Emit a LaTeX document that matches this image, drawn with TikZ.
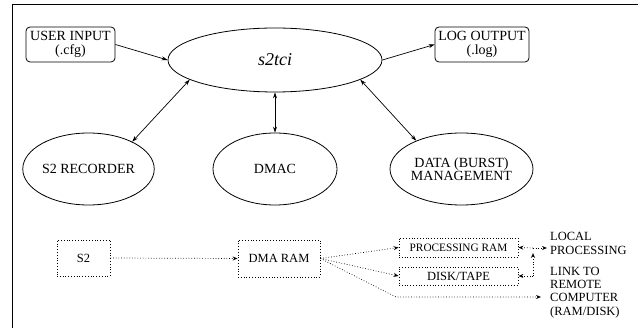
\documentclass[tikz,border=0pt]{standalone}
\usepackage{fontspec}
\setmainfont{Liberation Serif}
\usetikzlibrary{arrows.meta,shapes.geometric}
\tikzset{
  bigtxt/.style={font=\fontsize{14}{14}\selectfont},
  smalltxt/.style={font=\fontsize{12.5}{13.3}\selectfont},
  rbox/.style={draw, rounded corners=4pt, line width=0.8pt, inner sep=0pt, align=center, bigtxt},
  oval/.style={draw, ellipse, line width=0.8pt, inner sep=0pt, align=center, bigtxt},
  dbox/.style={draw, dotted, line width=0.8pt, inner sep=0pt, align=center, smalltxt},
  lbl/.style={inner sep=0pt, anchor=west, align=left, smalltxt},
  conn/.style={line width=0.7pt, -{Stealth[length=6pt,width=4pt]}},
  both/.style={line width=0.7pt, {Stealth[length=6pt,width=4pt]}-{Stealth[length=6pt,width=4pt]}},
  dconn/.style={dotted, line width=0.7pt, -{Stealth[open,length=5pt,width=4pt]}}
}
\begin{document}
\begin{tikzpicture}[x=1pt,y=-1pt]
\useasboundingbox (0,0) rectangle (638,328);
% frame
\draw[line width=1.2pt] (12.3,328) -- (12.3,4.3) -- (638,4.3);
% top part
\node[rbox, minimum width=89pt, minimum height=35pt] (ui) at (70.5,44.5) {USER INPUT\\(.cfg)};
\node[oval, minimum width=214pt, minimum height=64pt, font=\itshape\fontsize{18}{18}\selectfont] (s2tci) at (275,60) {s2tci};
\node[rbox, minimum width=94pt, minimum height=35pt] (lo) at (482,44.5) {LOG OUTPUT\\(.log)};
\node[oval, minimum width=125pt, minimum height=72pt] (rec) at (88.5,169) {S2 RECORDER};
\node[oval, minimum width=124pt, minimum height=72pt] (dmac) at (275,169) {DMAC};
\node[oval, minimum width=125pt, minimum height=72pt, font=\fontsize{14}{11.5}\selectfont] (data) at (461.5,169) {DATA (BURST)\\MANAGEMENT};
\draw[conn] (ui.east) -- (s2tci.west);
\draw[conn] (s2tci.east) -- (lo.west);
\draw[both] (rec.32) -- (s2tci.193);
\draw[both] (s2tci.south) -- (dmac.north);
\draw[both] (s2tci.347) -- (data.148);
% bottom part
\node[dbox, minimum width=53pt, minimum height=36pt] (s2) at (83.5,258) {S2};
\node[dbox, minimum width=82pt, minimum height=37pt] (dma) at (279,258.5) {DMA RAM};
\node[dbox, minimum width=119pt, minimum height=19pt, font=\fontsize{11.3}{12}\selectfont] (pram) at (458.5,247.5) {PROCESSING RAM};
\node[dbox, minimum width=119pt, minimum height=18pt] (disk) at (458.5,276) {DISK/TAPE};
\node[lbl] (lp) at (550,243.5) {LOCAL\\PROCESSING};
\node[lbl] (lr) at (550,292.5) {LINK TO\\REMOTE\\COMPUTER\\(RAM/DISK)};
\coordinate (bend) at (396,297);
\coordinate (rc) at (541,297);
\coordinate (j) at (533,248);
\coordinate (j2) at (533,276);
\draw[dconn] (s2.east) -- (dma.west);
\draw[dconn] (dma.east) -- (pram.west);
\draw[dconn] (dma.east) -- (disk.west);
\draw[dconn] (dma.east) -- (bend) -- (rc);
\draw[dconn] (j) -- (pram.east);
\draw[dconn, shorten >=3pt] (j) -- (lp.west |- j);
\draw[dconn] (j2) -- (disk.east);
\draw[dconn, shorten >=5pt] (j2) -- (j);
\end{tikzpicture}
\end{document}
